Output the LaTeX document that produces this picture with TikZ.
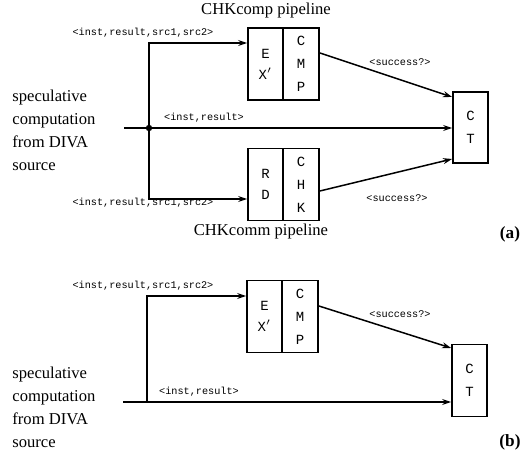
\documentclass[tikz,border=0pt]{standalone}
\usepackage{fontspec}
\setmainfont{Liberation Serif}
\setmonofont{Liberation Mono}
\usetikzlibrary{arrows.meta, positioning}

\begin{document}
\begin{tikzpicture}[
    x=0.5pt, y=-0.5pt,
    >={Stealth[length=4.5pt,width=3pt]},
    stage/.style={draw, line width=0.9pt, minimum width=18pt, minimum height=36pt,
        inner sep=0pt, align=center, font=\fontsize{7}{11.5}\selectfont\ttfamily},
    sig/.style={font=\fontsize{5.1}{6}\selectfont\ttfamily, inner sep=0pt},
    caption/.style={font=\fontsize{8.3}{11.5}\selectfont, inner sep=0pt},
    tag/.style={font=\fontsize{8.6}{10}\selectfont\bfseries, inner sep=0pt},
    wire/.style={line width=0.75pt},
]
    \useasboundingbox (0,0) rectangle (521,453);

    % (a) two checker pipelines
    \node[caption]                              (topA) at (266,11)    {CHKcomp pipeline};
    \node[stage, minimum width=17.5pt]          (exA)  at (265.5,64)  {E\\[-1pt]X$'$};
    \node[stage, right=-0.9pt of exA]           (cmpA)                {C\\M\\P};
    \node[stage, minimum width=17.5pt]          (rdA)  at (265.5,184.5) {R\\[-1pt]D};
    \node[stage, right=-0.9pt of rdA]           (chkA)                {C\\H\\K};
    \node[stage, minimum width=17.5pt, minimum height=35.5pt]
                                                (ctA)  at (470.5,127.5) {C\\T};
    \node[caption]                              (botA) at (261,232)   {CHKcomm pipeline};
    \node[caption, anchor=west, align=left]     (srcA) at (12,130.5)
        {speculative\\computation\\from DIVA\\source};
    \node[tag]                                  (tagA) at (510,234)   {(a)};

    \coordinate (inA) at (124,128);
    \coordinate (jA)  at (149,128);

    \draw[wire, ->] (inA) -- (ctA.west |- inA);
    \fill (jA) circle (1.6pt);
    \draw[wire, ->] (jA) |- ([yshift=10.5pt]exA.west);
    \draw[wire, ->] (jA) |- ([yshift=-7.25pt]rdA.west);
    \draw[wire, ->] ([yshift=5.5pt]cmpA.east) -- ([yshift=15.25pt]ctA.west);
    \draw[wire, ->] ([yshift=-3.25pt]chkA.east) -- ([yshift=-15.75pt]ctA.west);

    \node[sig] (upA)  at (143,33)  {<inst,result,src1,src2>};
    \node[sig] (lowA) at (143,203) {<inst,result,src1,src2>};
    \node[sig] (midA) at (204,118) {<inst,result>};
    \node[sig] (okA)  at (400,62)  {<success?>};
    \node[sig] (ok2A) at (397,198) {<success?>};

    % (b) one checker pipeline
    \node[stage, minimum width=17.5pt]          (exB)  at (264.5,316.5) {E\\[-1pt]X$'$};
    \node[stage, right=-0.9pt of exB]           (cmpB)                {C\\M\\P};
    \node[stage, minimum width=17.5pt]          (ctB)  at (469.5,380.5) {C\\T};
    \node[caption, anchor=west, align=left]     (srcB) at (12,407.5)
        {speculative\\computation\\from DIVA\\source};
    \node[tag]                                  (tagB) at (510,442)   {(b)};

    \coordinate (inB) at (123,402);
    \coordinate (jB)  at (147,402);

    \draw[wire, ->] (inB) -- (ctB.west |- inB);
    \draw[wire, ->] (jB) |- ([yshift=10.25pt]exB.west);
    \draw[wire, ->] ([yshift=5.25pt]cmpB.east) -- ([yshift=16.25pt]ctB.west);

    \node[sig] (upB)  at (143,286) {<inst,result,src1,src2>};
    \node[sig] (midB) at (199,392) {<inst,result>};
    \node[sig] (okB)  at (400,314) {<success?>};
\end{tikzpicture}
\end{document}
